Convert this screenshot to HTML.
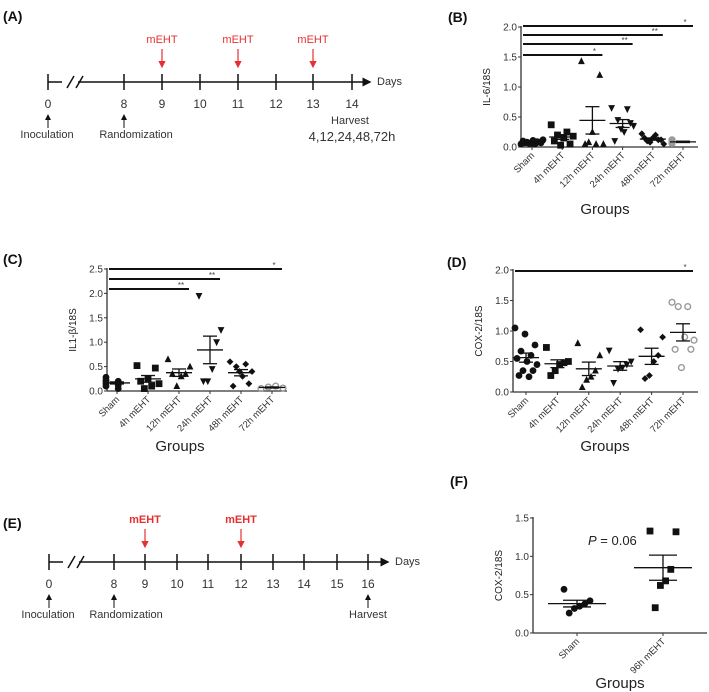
<!DOCTYPE html>
<html><head><meta charset="utf-8"><style>
body{margin:0;background:#fff}
svg{display:block;font-family:"Liberation Sans",sans-serif}
</style></head><body>
<svg id="fig" width="709" height="692" viewBox="0 0 709 692" xmlns="http://www.w3.org/2000/svg">
<defs>
<marker id="ah" markerWidth="6" markerHeight="6" refX="5" refY="3" orient="auto"><path d="M0,0 L6,3 L0,6 z" fill="#111"/></marker>
<marker id="ahr" markerWidth="6" markerHeight="6" refX="5" refY="3" orient="auto"><path d="M0,0 L6,3 L0,6 z" fill="#e53030"/></marker>
</defs>
<g id="root"></g>
</svg>
<script>
// ---------- data ----------
const groupsB = ["Sham","4h mEHT","12h mEHT","24h mEHT","48h mEHT","72h mEHT"];
const il6_sham = [0.05,0.06,0.07,0.08,0.09,0.1,0.11,0.12,0.06,0.08,0.07,0.05];
const il6_4h = [0.37,0.25,0.2,0.18,0.15,0.1,0.05,0.03];
const il6_12h = [1.43,1.2,0.25,0.05,0.05,0.05,0.08];
const il6_24h = [0.65,0.63,0.45,0.35,0.25,0.1,0.4,0.3];
const il6_48h = [0.22,0.2,0.15,0.12,0.1,0.12,0.08,0.05,0.15];
const il6_72h = [0.08,0.1,0.12,0.06,0.07];
const il1_sham = [0.28,0.2,0.15,0.12,0.1,0.05,0.2,0.18,0.22,0.15];
const il1_4h = [0.52,0.47,0.25,0.2,0.15,0.1,0.05];
const il1_12h = [0.65,0.5,0.35,0.3,0.1,0.35];
const il1_24h = [1.95,1.25,1.0,0.45,0.2,0.2];
const il1_48h = [0.6,0.55,0.5,0.4,0.3,0.1,0.15,0.4];
const il1_72h = [0.05,0.08,0.1,0.06];
const cox_sham = [1.05,0.95,0.77,0.67,0.6,0.55,0.5,0.45,0.35,0.35,0.27,0.25];
const cox_4h = [0.73,0.5,0.48,0.45,0.35,0.27];
const cox_12h = [0.8,0.6,0.35,0.25,0.2,0.08];
const cox_24h = [0.68,0.5,0.45,0.4,0.38,0.15];
const cox_48h = [1.02,0.9,0.6,0.5,0.27,0.22];
const cox_72h = [1.47,1.4,1.4,0.85,0.9,0.7,0.7,0.4];
const groupsF = ["Sham","96h mEHT"];
const coxF_sham = [0.57,0.42,0.38,0.35,0.32,0.26];
const coxF_96h = [1.33,1.32,0.83,0.68,0.62,0.33];
const ticksB = [0,0.5,1.0,1.5,2.0];
const ticksC = [0,0.5,1.0,1.5,2.0,2.5];
const ticksF = [0,0.5,1.0,1.5];
const sigB = [[0,5,"*"],[0,4,"**"],[0,3,"**"],[0,2,"*"]];
const sigC = [[0,5,"*"],[0,3,"**"],[0,2,"**"]];
const sigD = [[0,5,"*"]];

const NS="http://www.w3.org/2000/svg";
const root=document.getElementById('root');
function el(tag,attrs,parent,text){const e=document.createElementNS(NS,tag);for(const k in attrs)e.setAttribute(k,attrs[k]);if(text!==undefined)e.textContent=text;(parent||root).appendChild(e);return e;}

function marker(g,shape,cx,cy){
  const s=3.4;let m;
  if(shape==='circle')m=el('circle',{cx,cy,r:s,fill:'#111'},g);
  else if(shape==='square')m=el('rect',{x:cx-s,y:cy-s,width:2*s,height:2*s,fill:'#111'},g);
  else if(shape==='up')m=el('path',{d:`M${cx},${cy-s-0.5}L${cx+s},${cy+s-0.5}L${cx-s},${cy+s-0.5}Z`,fill:'#111'},g);
  else if(shape==='down')m=el('path',{d:`M${cx},${cy+s+0.5}L${cx+s},${cy-s+0.5}L${cx-s},${cy-s+0.5}Z`,fill:'#111'},g);
  else if(shape==='diamond')m=el('path',{d:`M${cx},${cy-s}L${cx+s},${cy}L${cx},${cy+s}L${cx-s},${cy}Z`,fill:'#111'},g);
  else m=el('circle',{cx,cy,r:s-0.5,fill:'none',stroke:'#999','stroke-width':1.4},g);
  
  
}

function chart(o){
  const g=el('g',{},root);
  
  
  const yS=v=>o.y0-(v/o.ymax)*(o.y0-o.ytop);
  const xS=i=>o.xs[0]+i*(o.xs[1]-o.xs[0])/(o.groups.length-1);
  const ya=el('line',{x1:o.ax,y1:o.ytop-1,x2:o.ax,y2:o.y0,stroke:'#333','stroke-width':1.3},g);
  
  const xa=el('line',{x1:o.ax,y1:o.y0,x2:o.xend,y2:o.y0,stroke:'#333','stroke-width':1.3},g);
  
  o.ticks.forEach(t=>{
    el('line',{x1:o.ax-3,y1:yS(t),x2:o.ax,y2:yS(t),stroke:'#333'},g);
    const tl=el('text',{x:o.ax-4,y:yS(t)+3.5,'text-anchor':'end','font-size':10,fill:'#333'},g,t.toFixed(1));
    
  });
  const yt=el('text',{x:0,y:0,'text-anchor':'middle','font-size':10,fill:'#222',transform:`translate(${o.ax-31},${(o.y0+o.ytop)/2}) rotate(-90)`},g,o.ytitle);
  
  o.groups.forEach((name,i)=>{
    const x=xS(i);
    el('line',{x1:x,y1:o.y0,x2:x,y2:o.y0+3,stroke:'#333'},g);
    const tl=el('text',{x:0,y:0,'text-anchor':'end','font-size':9.5,fill:'#333',transform:`translate(${x+3},${o.y0+9}) rotate(-45)`},g,name);
    
    const vals=o.series[i];
    const n=vals.length;const w=o.jw||22;
    vals.forEach((v,j)=>{const off=n>1?(-w/2+w*((j*5)%n)/(n-1)):0;marker(g,o.shapes[i],x+off,yS(v));});
    const mean=vals.reduce((a,b)=>a+b,0)/n;
    const sd=Math.sqrt(vals.reduce((a,b)=>a+(b-mean)*(b-mean),0)/(n-1));
    const sem=sd/Math.sqrt(n);
    const mw=o.mw||13,ew=o.ew||7;
    const ml=el('line',{x1:x-mw,y1:yS(mean),x2:x+mw,y2:yS(mean),stroke:'#111','stroke-width':1.3},g);
    
    el('line',{x1:x,y1:yS(mean+sem),x2:x,y2:yS(mean-sem),stroke:'#111','stroke-width':1.3},g);
    el('line',{x1:x-ew,y1:yS(mean+sem),x2:x+ew,y2:yS(mean+sem),stroke:'#111','stroke-width':1.3},g);
    el('line',{x1:x-ew,y1:yS(mean-sem),x2:x+ew,y2:yS(mean-sem),stroke:'#111','stroke-width':1.3},g);
  });
  (o.sig||[]).forEach((s,k)=>{
    const y=o.sigY[k];
    const l=el('line',{x1:o.ax+2,y1:y,x2:xS(s[1])+10,y2:y,stroke:'#111','stroke-width':2},g);
    
    el('text',{x:xS(s[1])+2,y:y-1,'text-anchor':'middle','font-size':8,fill:'#444'},g,s[2]);
  });
  const gt=el('text',{x:o.gx,y:o.gy,'text-anchor':'middle','font-size':15,fill:'#222'},g,'Groups');
  
}
const shapes6=['circle','square','up','down','diamond','open'];
chart({name:'chart-il6',groups:groupsB,series:[il6_sham,il6_4h,il6_12h,il6_24h,il6_48h,il6_72h],shapes:shapes6,
 ax:521,xend:698,y0:147,ytop:27,ymax:2.0,ticks:ticksB,xs:[532,683],ytitle:'IL-6/18S',sig:sigB,sigY:[26,35,44,55],gx:605,gy:214});
chart({name:'chart-il1b',groups:groupsB,series:[il1_sham,il1_4h,il1_12h,il1_24h,il1_48h,il1_72h],shapes:shapes6,
 ax:107,xend:287,y0:391,ytop:269,ymax:2.5,ticks:ticksC,xs:[117,272],ytitle:'IL1-β/18S',sig:sigC,sigY:[269,279,289],gx:180,gy:451});
chart({name:'chart-cox2',groups:groupsB,series:[cox_sham,cox_4h,cox_12h,cox_24h,cox_48h,cox_72h],shapes:shapes6,
 ax:513,xend:698,y0:392,ytop:270,ymax:2.0,ticks:ticksB,xs:[526,683],ytitle:'COX-2/18S',sig:sigD,sigY:[271],gx:605,gy:451});
chart({name:'chart-cox2-96h',groups:groupsF,series:[coxF_sham,coxF_96h],shapes:['circle','square'],
 ax:533,xend:707,y0:633,ytop:518,ymax:1.5,ticks:ticksF,xs:[577,663],ytitle:'COX-2/18S',gx:620,gy:688,mw:29,ew:14,jw:26});
const pv=el('text',{x:588,y:545,'font-size':13,fill:'#222'},root);

pv.innerHTML='<tspan font-style="italic">P</tspan> = 0.06';

// ---------- timelines ----------
const daysA=["0","8","9","10","11","12","13","14"];
const daysE=["0","8","9","10","11","12","13","14","15","16"];
const treatA=[2,4,6];
const treatE=[2,5];
function timeline(o){
  const g=el('g',{},root);
  
  
  el('line',{x1:o.xs[0],y1:o.y,x2:o.xs[0]+14,y2:o.y,stroke:'#111','stroke-width':1.5},g);
  el('line',{x1:o.xs[0]+30,y1:o.y,x2:o.end,y2:o.y,stroke:'#111','stroke-width':1.5,'marker-end':'url(#ah)'},g);
  el('line',{x1:o.xs[0]+26,y1:o.y-6,x2:o.xs[0]+19,y2:o.y+6,stroke:'#111','stroke-width':1.5},g);
  el('line',{x1:o.xs[0]+35,y1:o.y-6,x2:o.xs[0]+28,y2:o.y+6,stroke:'#111','stroke-width':1.5},g);
  o.labels.forEach((d,i)=>{
    const x=o.xs[i];
    el('line',{x1:x,y1:o.y-8,x2:x,y2:o.y+8,stroke:'#111','stroke-width':1.5},g);
    const t=el('text',{x,y:o.y+26,'text-anchor':'middle','font-size':12,fill:'#333'},g,d);
    
  });
  const dl=el('text',{x:o.end+7,y:o.y+3,'font-size':11,fill:'#333'},g,'Days');
  
  o.treat.forEach(i=>{
    const x=o.xs[i];
    const t=el('text',{x,y:o.y-39,'text-anchor':'middle','font-size':11,fill:'#e53030','font-weight':o.bold?'bold':'normal'},g,'mEHT');
    
    el('line',{x1:x,y1:o.y-33,x2:x,y2:o.y-15,stroke:'#e53030','stroke-width':1.2,'marker-end':'url(#ahr)'},g);
  });
  [[0,'Inoculation'],[1,'Randomization']].forEach(([i,txt])=>{
    const x=o.xs[i];
    el('line',{x1:x,y1:o.y+46,x2:x,y2:o.y+33,stroke:'#111','stroke-width':1,'marker-end':'url(#ah)'},g);
    const t=el('text',{x:i===0?x-1:x+12,y:o.y+56,'text-anchor':'middle','font-size':11,fill:'#333'},g,txt);
    
  });
}
timeline({name:'timeline-a',labels:daysA,xs:[48,124,162,200,238,276,313,352],y:82,end:370,treat:treatA});
timeline({name:'timeline-e',labels:daysE,xs:[49,114,145,177,208,241,273,304,337,368],y:562,end:388,treat:treatE,bold:true});
const h1=el('text',{x:350,y:124,'text-anchor':'middle','font-size':11,fill:'#333'},root,'Harvest');

const h2=el('text',{x:352,y:141,'text-anchor':'middle','font-size':13,fill:'#333'},root,'4,12,24,48,72h');

el('line',{x1:368,y1:608,x2:368,y2:595,stroke:'#111','stroke-width':1,'marker-end':'url(#ah)'});
const h3=el('text',{x:368,y:618,'text-anchor':'middle','font-size':11,fill:'#333'},root,'Harvest');


[['(A)',3,21],['(B)',448,22],['(C)',3,264],['(D)',447,267],['(E)',3,528],['(F)',450,486]].forEach(([t,x,y])=>{
  const e=el('text',{x,y,'font-size':14,'font-weight':'bold',fill:'#111'},root,t);
  
  
});
</script>
</body></html>
